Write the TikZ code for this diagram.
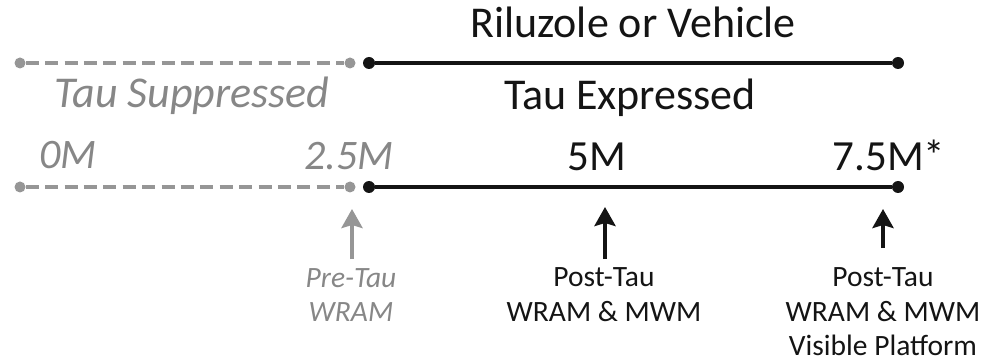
\documentclass[tikz,border=0pt]{standalone}
\usepackage{fontspec}
\setmainfont{Carlito}
\usetikzlibrary{arrows.meta}
\definecolor{tgrey}{RGB}{150,150,150}
\definecolor{tgreytext}{RGB}{135,135,135}
\definecolor{tblack}{RGB}{20,20,20}
\begin{document}
\begin{tikzpicture}[x=1pt,y=-1pt,
  greyline/.style={draw=tgrey,line width=4pt,dash pattern=on 13pt off 6.4pt},
  blackline/.style={draw=tblack,line width=3.5pt},
  gdot/.style={circle,fill=tgrey,inner sep=0pt,minimum size=11pt},
  bdot/.style={circle,fill=tblack,inner sep=0pt,minimum size=12pt},
  big/.style={font=\fontsize{44}{48}\selectfont,text=tblack,inner sep=0pt,anchor=base},
  biggrey/.style={font=\fontsize{44}{48}\selectfont\itshape,text=tgreytext,inner sep=0pt,anchor=base},
  num/.style={font=\fontsize{43}{48}\selectfont,text=tblack,inner sep=0pt,anchor=base},
  numgrey/.style={font=\fontsize{42}{48}\selectfont\itshape,text=tgreytext,inner sep=0pt,anchor=base},
  small/.style={font=\fontsize{29.5}{36}\selectfont,text=tblack,inner sep=0pt,anchor=base},
  smallgrey/.style={font=\fontsize{29.5}{36}\selectfont\itshape,text=tgreytext,inner sep=0pt,anchor=base},
  garrow/.style={draw=tgrey,line width=4pt,-{Stealth[length=19pt,width=21pt,inset=3pt]}},
  barrow/.style={draw=tblack,line width=4pt,-{Stealth[length=19pt,width=21pt,inset=3pt]}}]
\useasboundingbox (0,0) rectangle (984,363);
% top line
\node[gdot] (t0) at (20,63) {};
\node[gdot] (t1) at (350,63) {};
\node[bdot] (t2) at (369,63) {};
\node[bdot] (t3) at (898,63) {};
\draw[greyline] (t0) -- (t1);
\draw[blackline] (t2) -- (t3);
% bottom line
\node[gdot] (b0) at (20,187) {};
\node[gdot] (b1) at (350,187) {};
\node[bdot] (b2) at (369,187) {};
\node[bdot] (b3) at (898,187) {};
\draw[greyline] (b0) -- (b1);
\draw[blackline] (b2) -- (b3);
% texts
\node[big] (ril) at (633,38) {Riluzole or Vehicle};
\node[big] (exp) at (630,110) {Tau Expressed};
\node[biggrey] (sup) at (192,108) {Tau Suppressed};
\node[numgrey] (m0) at (68,169) {0M};
\node[numgrey] (m25) at (349,170) {2.5M};
\node[num] (m5) at (597,171) {5M};
\node[num] (m75) at (889,171) {7.5M*};
% labels
\node[smallgrey] (l1a) at (351,287) {Pre-Tau};
\node[smallgrey] (l1b) at (351,321) {WRAM};
\node[small] (l2a) at (604,286) {Post-Tau};
\node[small] (l2b) at (604,321) {WRAM \& MWM};
\node[small] (l3a) at (883,286) {Post-Tau};
\node[small] (l3b) at (883,321) {WRAM \& MWM};
\node[small] (l3c) at (883,355) {Visible Platform};
% arrows
\coordinate (a1s) at (352,259);
\coordinate (a1) at (352,209);
\coordinate (a2s) at (605,259);
\coordinate (a2) at (605,207);
\coordinate (a3s) at (883,248);
\coordinate (a3) at (883,209);
\draw[garrow] (a1s) -- (a1);
\draw[barrow] (a2s) -- (a2);
\draw[barrow] (a3s) -- (a3);
\end{tikzpicture}
\end{document}
